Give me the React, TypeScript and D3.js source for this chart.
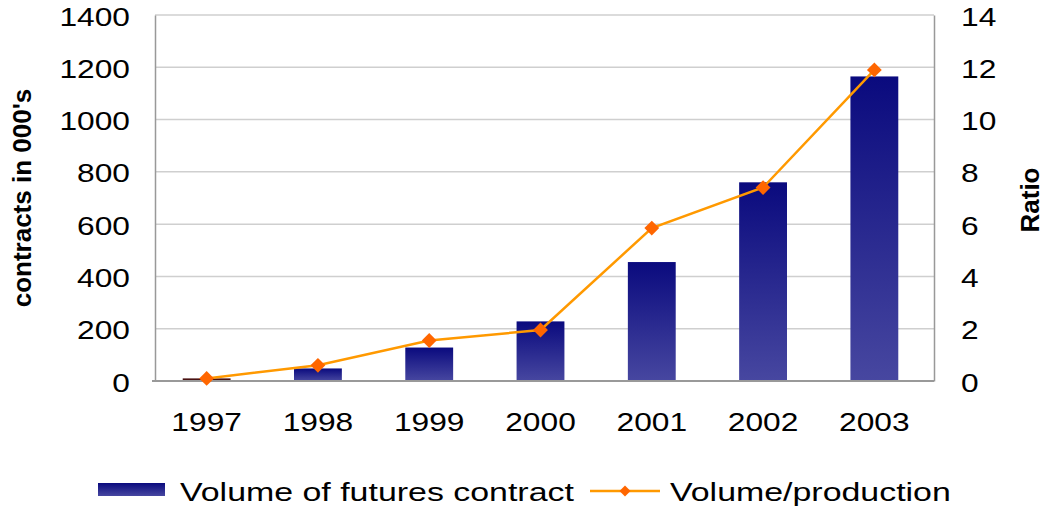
import {useEffect, useRef} from "react";
import * as d3 from "d3";

const years = ["1997", "1998", "1999", "2000", "2001", "2002", "2003"];
const volume = [10, 48, 128, 228, 455, 760, 1165];
const ratio = [0.1, 0.6, 1.55, 1.95, 5.85, 7.4, 11.9];
const leftTicks = [0, 200, 400, 600, 800, 1000, 1200, 1400];
const rightTicks = [0, 2, 4, 6, 8, 10, 12, 14];

const FONT = "Liberation Sans, Arial, sans-serif";
const STRETCH = 1.22;

const App = () => {
    const ref = useRef<SVGSVGElement>(null);

    useEffect(() => {
        const svg = d3.select(ref.current);
        svg.selectAll("*").remove();

        const left = 155, right = 934, top = 15, bottom = 381;

        const x = d3.scaleBand()
            .domain(years)
            .range([151, 930])
            .paddingInner(0.57)
            .paddingOuter(0.285);
        const y = d3.scaleLinear().domain([0, 1400]).range([bottom, top]);
        const y2 = d3.scaleLinear().domain([0, 14]).range([bottom, top]);

        const defs = svg.append("defs");
        const grad = defs.append("linearGradient")
            .attr("id", "barGrad")
            .attr("x1", 0).attr("y1", 0).attr("x2", 0).attr("y2", 1);
        grad.append("stop").attr("offset", "0%").attr("stop-color", "#0a0a7e");
        grad.append("stop").attr("offset", "100%").attr("stop-color", "#4747a0");

        // gridlines
        svg.append("g")
            .selectAll("line")
            .data(leftTicks.slice(1))
            .enter()
            .append("line")
            .attr("x1", left).attr("x2", right)
            .attr("y1", d => y(d)).attr("y2", d => y(d))
            .attr("stroke", "#cfcfcf")
            .attr("stroke-width", 1.5);

        // left axis
        const gl = svg.append("g")
            .attr("transform", `translate(${left},0)`)
            .call(d3.axisLeft(y).tickValues(leftTicks).tickSize(0).tickFormat(d3.format("d")));
        gl.select(".domain").attr("stroke", "#999").attr("stroke-width", 1.5);
        gl.selectAll("text")
            .attr("x", null).attr("dy", null)
            .attr("transform", `translate(-25,10) scale(${STRETCH},1)`)
            .attr("font-size", 26).attr("font-family", FONT).attr("fill", "#000");

        // right axis
        const gr = svg.append("g")
            .attr("transform", `translate(${right},0)`)
            .call(d3.axisRight(y2).tickValues(rightTicks).tickSize(0).tickFormat(d3.format("d")));
        gr.select(".domain").attr("stroke", "#999").attr("stroke-width", 1.5);
        gr.selectAll("text")
            .attr("x", null).attr("dy", null)
            .attr("transform", `translate(27,10) scale(${STRETCH},1)`)
            .attr("font-size", 26).attr("font-family", FONT).attr("fill", "#000");

        // bars
        svg.append("g")
            .selectAll("rect")
            .data(volume)
            .enter()
            .append("rect")
            .attr("x", (d, i) => x(years[i])!)
            .attr("y", d => y(d))
            .attr("width", x.bandwidth())
            .attr("height", d => bottom - y(d))
            .attr("fill", (d, i) => i === 0 ? "#4a1212" : "url(#barGrad)");

        // bottom axis
        const gb = svg.append("g")
            .attr("transform", `translate(0,${bottom})`)
            .call(d3.axisBottom(x).tickSize(0));
        gb.select(".domain").attr("d", `M${left - 3},0H${right}`).attr("stroke", "#999").attr("stroke-width", 2);
        gb.selectAll("text")
            .attr("y", null).attr("dy", null)
            .attr("transform", `translate(0,50) scale(${STRETCH},1)`)
            .attr("font-size", 26).attr("font-family", FONT).attr("fill", "#000");

        // ratio line
        const cx = (i: number) => x(years[i])! + x.bandwidth() / 2;
        const line = d3.line<number>()
            .x((d, i) => cx(i))
            .y(d => y2(d));
        svg.append("path")
            .datum(ratio)
            .attr("d", line)
            .attr("fill", "none")
            .attr("stroke", "#ff9900")
            .attr("stroke-width", 2.5);

        const diamond = d3.symbol().type(d3.symbolSquare).size(110);
        svg.append("g")
            .selectAll("path")
            .data(ratio)
            .enter()
            .append("path")
            .attr("d", diamond)
            .attr("transform", (d, i) => `translate(${cx(i)},${y2(d)}) rotate(45)`)
            .attr("fill", "#ff6600");

        // axis titles
        svg.append("text")
            .attr("transform", "translate(31,198) rotate(-90)")
            .attr("text-anchor", "middle")
            .attr("font-size", 26).attr("font-weight", "bold").attr("font-family", FONT)
            .text("contracts in 000's");
        svg.append("text")
            .attr("transform", "translate(1039,200) rotate(-90)")
            .attr("text-anchor", "middle")
            .attr("font-size", 26).attr("font-weight", "bold").attr("font-family", FONT)
            .text("Ratio");

        // legend
        const lg = svg.append("g");
        lg.append("rect")
            .attr("x", 98).attr("y", 483).attr("width", 67).attr("height", 13)
            .attr("fill", "url(#barGrad)");
        lg.append("text")
            .attr("transform", "translate(180,501) scale(1.28,1)")
            .attr("font-size", 26.5).attr("font-family", FONT)
            .text("Volume of futures contract");
        lg.append("line")
            .attr("x1", 590).attr("x2", 660).attr("y1", 491).attr("y2", 491)
            .attr("stroke", "#ff9900").attr("stroke-width", 2.5);
        lg.append("path")
            .attr("d", d3.symbol().type(d3.symbolSquare).size(60)())
            .attr("transform", "translate(625,491) rotate(45)")
            .attr("fill", "#ff6600");
        lg.append("text")
            .attr("transform", "translate(670,501) scale(1.28,1)")
            .attr("font-size", 26.5).attr("font-family", FONT)
            .text("Volume/production");
    }, []);

    return (
        <svg ref={ref} width={1045} height={508}
             style={{position: "absolute", left: 0, top: 0, background: "#fff"}}/>
    );
};

export default App;
